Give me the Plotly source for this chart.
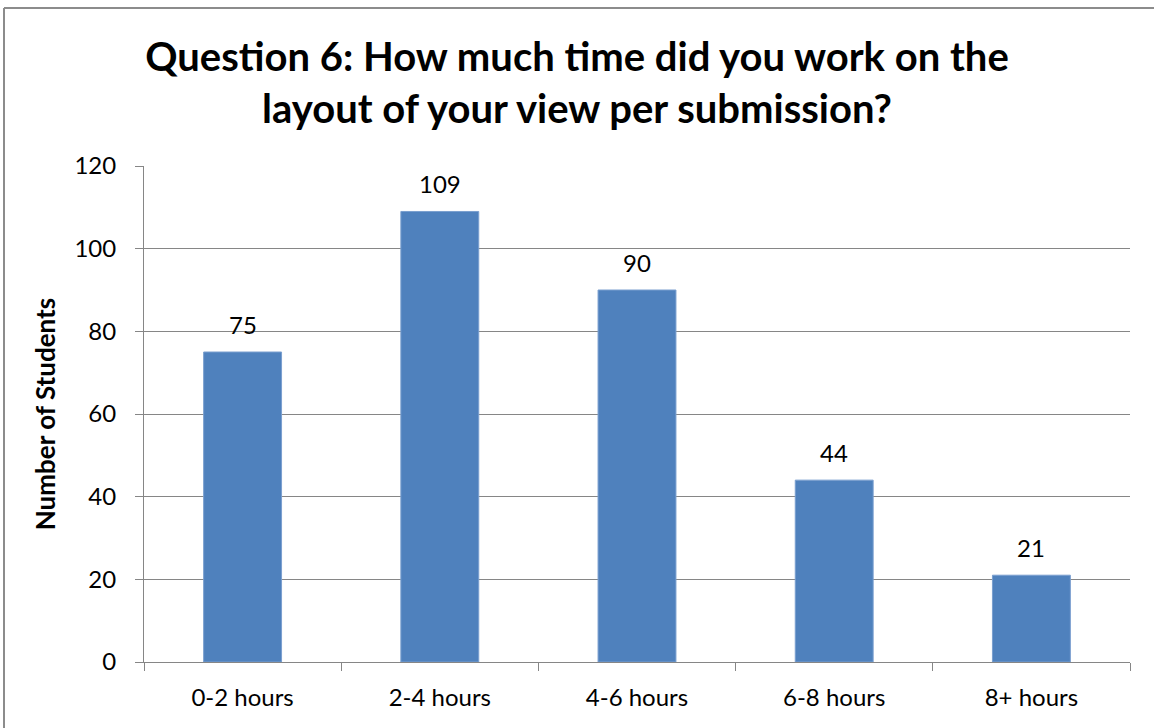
import plotly.graph_objects as go

categories = ["0-2 hours", "2-4 hours", "4-6 hours", "6-8 hours", "8+ hours"]
students = [75, 109, 90, 44, 21]
y_ticks = [0, 20, 40, 60, 80, 100, 120]

W, H = 1154, 728
L, R, T, B = 144, 24, 166, 66
pw, ph = W - L - R, H - T - B

FONT = "Lato"
GRID = "#868686"

fig = go.Figure()
fig.add_trace(go.Bar(
    x=categories, y=students,
    marker=dict(color="#4F81BD", line=dict(color="#7a9fcf", width=1)),
    width=0.395,
    hoverinfo="x+y",
))

for c, v in zip(categories, students):
    fig.add_annotation(x=c, y=v, text=str(v), showarrow=False,
                       yanchor="bottom", yshift=11,
                       font=dict(family=FONT, size=24, color="black"))

fig.update_layout(
    width=W, height=H,
    margin=dict(l=L, r=R, t=T, b=B),
    paper_bgcolor="white", plot_bgcolor="white",
    showlegend=False,
    title=dict(
        text="Question 6: How much time did you work on the<br>layout of your view per submission?",
        x=0.5, xanchor="center", xref="container",
        y=1 - 71 / H, yanchor="middle", yref="container",
        font=dict(family=FONT, size=40, color="black", weight="bold"),
    ),
    xaxis=dict(
        type="category",
        showline=True, linecolor=GRID, linewidth=1,
        ticks="outside", tickson="boundaries", ticklen=8, tickcolor=GRID,
        tickfont=dict(family=FONT, size=24, color="black"),
        ticklabelstandoff=14,
        showgrid=False,
    ),
    yaxis=dict(
        range=[0, 120], tickvals=y_ticks,
        showline=True, linecolor=GRID, linewidth=1,
        ticks="outside", ticklen=8, tickcolor=GRID,
        showgrid=True, gridcolor=GRID, gridwidth=1,
        tickfont=dict(family=FONT, size=24, color="black"),
        ticklabelstandoff=14,
        zeroline=False,
        title=dict(text="Number of Students", standoff=11,
                   font=dict(family=FONT, size=26, color="black", weight="bold")),
    ),
)

# outer chart border (left and top edges visible in reference)
bx = (4 - L) / pw
by = 1 + (T - 8) / ph
fig.add_shape(type="line", xref="paper", yref="paper", x0=bx, y0=by, x1=(W + 10 - L) / pw, y1=by,
              line=dict(color="#8c8c8c", width=2))
fig.add_shape(type="line", xref="paper", yref="paper", x0=bx, y0=by, x1=bx, y1=-(B + 10) / ph,
              line=dict(color="#8c8c8c", width=2))

fig.write_html("out.html", config={"displayModeBar": False},
               post_script="document.body.style.margin='0';document.body.style.overflow='hidden';")
